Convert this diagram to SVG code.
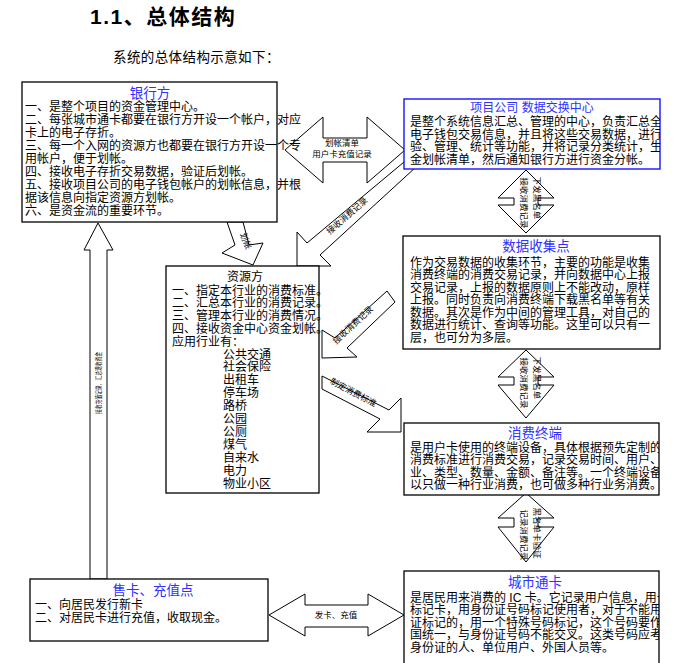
<svg xmlns="http://www.w3.org/2000/svg" width="691" height="663" viewBox="0 0 691 663">
<style>
text{font-family:"Liberation Sans","Noto Sans CJK SC",sans-serif;fill:#000}
.t{font-size:12px}
.h{font-size:13.5px;fill:#3030ff;text-anchor:middle}
.l{font-size:8.5px;text-anchor:middle}
.box{fill:#fff;stroke:#000;stroke-width:1.3}
.arr{fill:#fff;stroke:#000;stroke-width:1}
</style>
<defs>
<clipPath id="cp1"><rect x="404" y="99" width="256" height="70"/></clipPath>
<clipPath id="cp2"><rect x="403" y="236" width="257" height="113"/></clipPath>
<clipPath id="cp3"><rect x="404" y="423" width="255" height="72"/></clipPath>
<clipPath id="cp4"><rect x="404" y="571" width="255" height="92"/></clipPath>
</defs>
<rect width="691" height="663" fill="#fff"/>
<text x="90" y="24" style="font-size:21px;font-weight:bold;letter-spacing:1.5px">1.1、总体结构</text>
<text x="113" y="62" style="font-size:13.5px;letter-spacing:0.4px">系统的总体结构示意如下：</text>

<g id="connectors">
<polygon class="arr" points="285,150 323,117 323,138 367,138 367,117 405,150 367,183 367,162 323,162 323,183"/>
<text class="l" x="342" y="146">划帐清单</text>
<text class="l" x="342" y="157">用户卡充值记录</text>
<polygon class="arr" points="410,157 307,243 297,232 297,266 331,266 320,255 416,167"/>
<text class="l" transform="translate(349,218) rotate(-41)">接收消费记录</text>
<polygon class="arr" points="227,222 235,245 222,253 253,265 263,243 249,245 243,222"/>
<text class="l" transform="translate(243,242) rotate(70)">划帐</text>
<polygon class="arr" points="395,302 347,348 357,357 322,358 322,330 335,338 387,291"/>
<text class="l" transform="translate(355,327) rotate(-43)">接收消费记录</text>
<polygon class="arr" points="322,376 389,410 401,398 401,432 367,432 380,419 322,389"/>
<text class="l" transform="translate(352,395) rotate(28)">制定消费标准</text>
<polygon class="arr" points="526,170 554,198 538,198 538,205 554,205 526,233 498,205 514,205 514,198 498,198"/>
<text class="l" transform="translate(521,203) rotate(90)">接收消费记录</text>
<text class="l" transform="translate(534,198) rotate(90)">下发黑名单</text>
<polygon class="arr" points="526,350 554,377 538,377 538,385 554,385 526,418 498,385 514,385 514,377 498,377"/>
<text class="l" transform="translate(521,383) rotate(90)">接收消费记录</text>
<text class="l" transform="translate(534,378) rotate(90)">下发黑名单</text>
<polygon class="arr" points="526,493 554,518 538,518 538,527 554,527 526,562 498,527 514,527 514,518 498,518"/>
<text class="l" transform="translate(521,535) rotate(90)">记录消费记录</text>
<text class="l" transform="translate(534,533) rotate(90)">黑名单卡验证</text>
<polygon class="arr" points="98,223 113,250 107,250 107,579 90,579 90,250 84,250"/>
<text class="l" transform="translate(101,383) rotate(-90)" style="font-size:7px" textLength="62" lengthAdjust="spacingAndGlyphs">接收充值记录，汇总现收资金</text>
<polygon class="arr" points="269,615 305,594 305,605 368,605 368,594 404,615 368,636 368,627 305,627 305,636"/>
<text class="l" x="336" y="618">发卡、充值</text>
</g>

<g id="bank">
<rect class="box" x="22" y="82" width="255" height="140"/>
<text class="h" x="150" y="98">银行方</text>
<text class="t" x="25" y="110.5">一、是整个项目的资金管理中心。</text>
<text class="t" x="25" y="123.5">二、每张城市通卡都要在银行方开设一个帐户，对应</text>
<text class="t" x="25" y="136.5">卡上的电子存折。</text>
<text class="t" x="25" y="149.5">三、每一个入网的资源方也都要在银行方开设一个专</text>
<text class="t" x="25" y="162.5">用帐户，便于划帐。</text>
<text class="t" x="25" y="175.5">四、接收电子存折交易数据，验证后划帐。</text>
<text class="t" x="25" y="188.5">五、接收项目公司的电子钱包帐户的划帐信息，并根</text>
<text class="t" x="25" y="201.5">据该信息向指定资源方划帐。</text>
<text class="t" x="25" y="214.5">六、是资金流的重要环节。</text>
</g>

<g id="project">
<rect x="404" y="99" width="256" height="70" fill="#fff" stroke="#0000ff" stroke-width="1.3"/>
<g clip-path="url(#cp1)">
<text class="h" x="532" y="112" style="font-size:12px">项目公司 数据交换中心</text>
<text class="t" x="410" y="126">是整个系统信息汇总、管理的中心，负责汇总全</text>
<text class="t" x="410" y="138.5">电子钱包交易信息，并且将这些交易数据，进行</text>
<text class="t" x="410" y="151">验、管理、统计等功能，并将记录分类统计，生</text>
<text class="t" x="410" y="163.5">金划帐清单，然后通知银行方进行资金分帐。</text>
</g>
</g>

<g id="collect">
<rect class="box" x="403" y="236" width="257" height="113"/>
<g clip-path="url(#cp2)">
<text class="h" x="536" y="251">数据收集点</text>
<text class="t" x="410" y="266.5">作为交易数据的收集环节，主要的功能是收集</text>
<text class="t" x="410" y="279">消费终端的消费交易记录，并向数据中心上报</text>
<text class="t" x="410" y="291.5">交易记录，上报的数据原则上不能改动，原样</text>
<text class="t" x="410" y="304">上报。同时负责向消费终端下载黑名单等有关</text>
<text class="t" x="410" y="316.5">数据。其次是作为中间的管理工具，对自己的</text>
<text class="t" x="410" y="329">数据进行统计、查询等功能。这里可以只有一</text>
<text class="t" x="410" y="341.5">层，也可分为多层。</text>
</g>
</g>

<g id="resource">
<rect class="box" x="166" y="266" width="153" height="227"/>
<text class="t" x="245" y="280.5" text-anchor="middle">资源方</text>
<text class="t" x="172" y="294.5">一、指定本行业的消费标准。</text>
<text class="t" x="172" y="307.3">二、汇总本行业的消费记录。</text>
<text class="t" x="172" y="320.1">三、管理本行业的消费情况。</text>
<text class="t" x="172" y="332.9">四、接收资金中心资金划帐。</text>
<text class="t" x="172" y="345.7">应用行业有：</text>
<text class="t" x="223" y="358.5">公共交通</text>
<text class="t" x="223" y="371.4">社会保险</text>
<text class="t" x="223" y="384.3">出租车</text>
<text class="t" x="223" y="397.2">停车场</text>
<text class="t" x="223" y="410.1">路桥</text>
<text class="t" x="223" y="423">公园</text>
<text class="t" x="223" y="435.9">公厕</text>
<text class="t" x="223" y="448.8">煤气</text>
<text class="t" x="223" y="461.7">自来水</text>
<text class="t" x="223" y="474.6">电力</text>
<text class="t" x="223" y="487.5">物业小区</text>
</g>

<g id="terminal">
<rect class="box" x="404" y="423" width="255" height="72"/>
<g clip-path="url(#cp3)">
<text class="h" x="535" y="438">消费终端</text>
<text class="t" x="410" y="451.5">是用户卡使用的终端设备，具体根据预先定制的</text>
<text class="t" x="410" y="464">消费标准进行消费交易，记录交易时间、用户、</text>
<text class="t" x="410" y="476.5">业、类型、数量、金额、备注等。一个终端设备</text>
<text class="t" x="410" y="489">以只做一种行业消费，也可做多种行业务消费。</text>
</g>
</g>

<g id="citycard">
<rect class="box" x="404" y="571" width="255" height="95"/>
<g clip-path="url(#cp4)">
<text class="h" x="535" y="587">城市通卡</text>
<text class="t" x="410" y="601.5">是居民用来消费的 IC 卡。它记录用户信息，用卡</text>
<text class="t" x="410" y="614">标记卡，用身份证号码标记使用者，对于不能用</text>
<text class="t" x="410" y="626.5">证标记的，用一个特殊号码标记，这个号码要作</text>
<text class="t" x="410" y="639">国统一，与身份证号码不能交叉。这类号码应考</text>
<text class="t" x="410" y="651.5">身份证的人、单位用户、外国人员等。</text>
</g>
</g>

<g id="sale">
<rect class="box" x="30" y="579" width="238" height="62"/>
<text class="h" x="153" y="595">售卡、充值点</text>
<text class="t" x="35" y="608.5">一、向居民发行新卡</text>
<text class="t" x="35" y="621.5">二、对居民卡进行充值，收取现金。</text>
</g>
</svg>
